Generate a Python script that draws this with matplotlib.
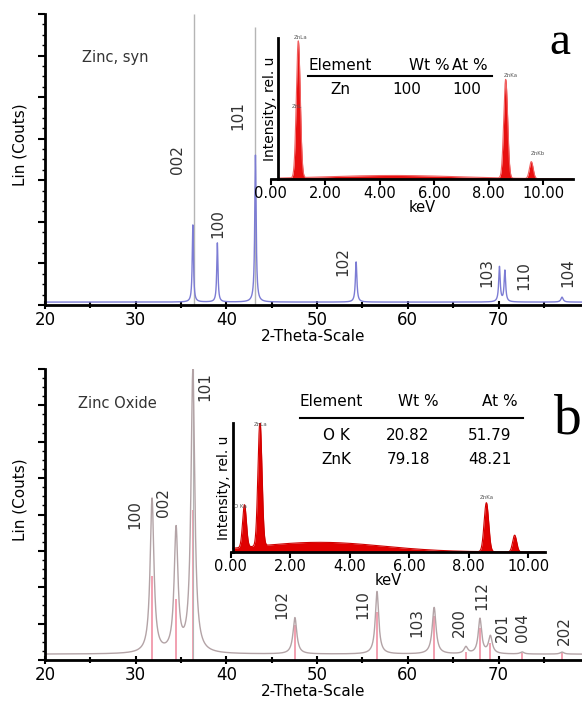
import numpy as np
import matplotlib
matplotlib.use("Agg")
import matplotlib.pyplot as plt
from matplotlib.ticker import MultipleLocator

# ---- XRD data (peak position 2theta, height in % of axis, FWHM) ----
zn_hkl = ["002", "100", "101", "102", "103", "110", "104"]
zn_pos = [36.3, 39.0, 43.2, 54.3, 70.1, 70.7, 77.0]
zn_height = [26.5, 20.3, 50.5, 13.8, 12.0, 10.7, 1.7]
zn_fwhm = [0.16, 0.16, 0.18, 0.2, 0.2, 0.2, 0.3]
zn_background = 1.0
zn_stick_pos = [36.45, 43.2]
zn_stick_height = [100, 95.5]

zno_hkl = ["100", "002", "101", "102", "110", "103", "200", "112", "201", "004", "202"]
zno_pos = [31.8, 34.45, 36.3, 47.55, 56.6, 62.9, 66.4, 67.95, 69.1, 72.6, 77.0]
zno_height = [53.0, 42.0, 97.0, 12.5, 21.5, 16.0, 2.3, 12.0, 6.0, 0.7, 0.7]
zno_fwhm = [0.5, 0.5, 0.5, 0.5, 0.45, 0.5, 0.5, 0.45, 0.5, 0.5, 0.5]
zno_background = 2.0
zno_stick_pos = [31.8, 34.45, 36.3, 47.55, 56.6, 62.9, 66.4, 67.95, 69.1, 72.6, 77.0]
zno_stick_height = [29, 21, 51.5, 12, 16.5, 15, 2.8, 11, 6, 2.5, 2.5]

# label positions (2theta, height %) for hkl texts
zn_lab_x = [34.6, 39.1, 41.3, 52.8, 68.7, 72.8, 77.6]
zn_lab_y = [50, 28, 65, 15, 11, 10, 11]
zno_lab_x = [29.9, 33.1, 37.6, 46.1, 55.0, 61.0, 65.7, 68.2, 70.4, 72.6, 77.3]
zno_lab_y = [50, 54, 94, 19, 19, 13, 13, 22, 11, 11, 10]

# ---- EDS data (keV, relative intensity, width) ----
eds_a_pos = [1.02, 8.63, 9.57, 4.5]
eds_a_height = [0.97, 0.70, 0.12, 0.025]
eds_a_width = [0.17, 0.17, 0.16, 6.0]

eds_b_pos = [0.47, 0.99, 8.6, 9.55, 3.0]
eds_b_height = [0.33, 0.97, 0.38, 0.13, 0.075]
eds_b_width = [0.15, 0.16, 0.18, 0.16, 5.0]

keV_ticks = [0, 2, 4, 6, 8, 10]
keV_labels = ["0.00", "2.00", "4.00", "6.00", "8.00", "10.00"]

table_a = [["Zn", "100", "100"]]
table_b = [["O K", "20.82", "51.79"], ["ZnK", "79.18", "48.21"]]

W, H = 582, 707
FONT = "DejaVu Sans"
plt.rcParams["font.family"] = FONT


def lorentz_sum(x, pos, height, fwhm, base):
    y = np.full_like(x, base)
    for c, h, w in zip(pos, height, fwhm):
        y += h / (1 + ((x - c) / (w / 2)) ** 2)
    return y


def gauss_sum(x, pos, height, width):
    y = np.zeros_like(x)
    for c, h, w in zip(pos, height, width):
        y += h * np.exp(-0.5 * ((x - c) / (w / 2.355)) ** 2)
    return y


def fig_box(x0, y0, x1, y1):
    # pixel box -> figure fraction rect
    return [x0 / W, 1 - y1 / H, (x1 - x0) / W, (y1 - y0) / H]


def style_main(ax, nticks):
    ax.set_xlim(20, 79.2)
    ax.set_ylim(0, 100)
    for s in ["top", "right"]:
        ax.spines[s].set_visible(False)
    ax.spines["left"].set_linewidth(2)
    ax.spines["bottom"].set_linewidth(2)
    ax.xaxis.set_major_locator(MultipleLocator(10))
    ax.xaxis.set_minor_locator(MultipleLocator(5))
    ax.set_yticks(np.linspace(0, 100, nticks + 1))
    ax.yaxis.set_minor_locator(MultipleLocator(100 / nticks / 4))
    ax.tick_params(axis="x", which="major", direction="inout", length=6, width=1.5, labelsize=12, pad=1)
    ax.tick_params(axis="x", which="minor", direction="inout", length=5, width=1.5)
    ax.tick_params(axis="y", which="major", direction="out", length=5, width=1.5, labelleft=False)
    ax.tick_params(axis="y", which="minor", direction="out", length=2, width=1)
    ax.set_xlabel("2-Theta-Scale", fontsize=11, labelpad=0)
    ax.set_ylabel("Lin (Couts)", fontsize=11)
    ax.yaxis.set_label_coords(-0.032, 0.55)


def style_inset(ax, xmax):
    ax.set_xlim(0, xmax)
    ax.set_ylim(0, 1.0)
    for s in ["top", "right"]:
        ax.spines[s].set_visible(False)
    ax.spines["left"].set_linewidth(2)
    ax.spines["bottom"].set_linewidth(2)
    ax.set_xticks(keV_ticks)
    ax.set_xticklabels(keV_labels)
    ax.set_yticks([])
    ax.tick_params(axis="x", direction="out", length=4, width=1.5, labelsize=10.5, pad=1)
    ax.set_xlabel("keV", fontsize=10.5, labelpad=-1)
    ax.set_ylabel("Intensity, rel. u", fontsize=10, labelpad=1)
    ax.patch.set_alpha(0)


fig = plt.figure(figsize=(W / 100, H / 100), dpi=100)

# ---------------- panel a ----------------
ax1 = fig.add_axes(fig_box(45, 14, 582, 305))
tt = np.linspace(20, 80, 8000)
ax1.vlines(zn_stick_pos, 0, zn_stick_height, color="#b5b5b5", lw=1)
ax1.plot(tt, lorentz_sum(tt, zn_pos, zn_height, zn_fwhm, zn_background), color="#7c7cd4", lw=1)
style_main(ax1, 7)
for lab, x, y in zip(zn_hkl, zn_lab_x, zn_lab_y):
    ax1.text(x, y, lab, rotation=90, fontsize=11, ha="center", va="center", color="#333333")
ax1.text(0.069, 0.852, "Zinc, syn", transform=ax1.transAxes, fontsize=10.5, va="center", color="#333333")

ins1 = fig.add_axes(fig_box(270.5, 38, 573, 179))
style_inset(ins1, 11.1)
ins1.spines["left"].set_position(("data", 0.28))
ee = np.linspace(0.28, 11.1, 3000)
ya = gauss_sum(ee, eds_a_pos, eds_a_height, eds_a_width)
ins1.fill_between(ee, 0, ya, color="#e81010", lw=0)
ins1.plot(ee, ya, color="#f06060", lw=0.8)
ins1.text(1.1, 0.99, "ZnLa", fontsize=4, color="#555555", ha="center")
ins1.text(0.95, 0.5, "ZnL", fontsize=4, color="#555555", ha="center")
ins1.text(8.8, 0.72, "ZnKa", fontsize=4, color="#555555", ha="center")
ins1.text(9.8, 0.17, "ZnKb", fontsize=4, color="#555555", ha="center")

# table a
fig.text(308 / W, 1 - 65 / H, "Element", fontsize=11, va="center", ha="left")
fig.text(429 / W, 1 - 65 / H, "Wt %", fontsize=11, va="center", ha="center")
fig.text(470 / W, 1 - 65 / H, "At %", fontsize=11, va="center", ha="center")
fig.add_artist(plt.Line2D([308 / W, 492 / W], [1 - 76 / H, 1 - 76 / H], color="black", lw=1.5))
for row in table_a:
    fig.text(340 / W, 1 - 90 / H, row[0], fontsize=11, va="center", ha="center")
    fig.text(407 / W, 1 - 90 / H, row[1], fontsize=11, va="center", ha="center")
    fig.text(467 / W, 1 - 90 / H, row[2], fontsize=11, va="center", ha="center")
fig.text(560 / W, 1 - 43 / H, "a", fontsize=34, family="Liberation Serif", ha="center", va="center")

# ---------------- panel b ----------------
ax2 = fig.add_axes(fig_box(45, 369, 582, 660))
ax2.vlines(zno_stick_pos, 0, zno_stick_height, color="#f2a0b0", lw=1.4)
ax2.vlines([36.3], 0, [100], color="#b5b5b5", lw=0.8)
ax2.plot(tt, lorentz_sum(tt, zno_pos, zno_height, zno_fwhm, zno_background), color="#b3a3a6", lw=1)
style_main(ax2, 8)
for lab, x, y in zip(zno_hkl, zno_lab_x, zno_lab_y):
    ax2.text(x, y, lab, rotation=90, fontsize=11, ha="center", va="center", color="#333333")
ax2.text(0.062, 0.883, "Zinc Oxide", transform=ax2.transAxes, fontsize=10.5, va="center", color="#333333")

ins2 = fig.add_axes(fig_box(230.5, 423, 545, 552))
style_inset(ins2, 10.57)
ins2.spines["left"].set_position(("data", 0.08))
eb = np.linspace(0.08, 10.57, 3000)
yb = gauss_sum(eb, eds_b_pos, eds_b_height, eds_b_width)
ins2.fill_between(eb, 0, yb, color="#e00000", lw=0)
ins2.plot(eb, yb, color="#d00000", lw=0.8)
ins2.text(1.0, 0.98, "ZnLa", fontsize=4, color="#555555", ha="center")
ins2.text(0.35, 0.34, "O Ka", fontsize=4, color="#555555", ha="center")
ins2.text(8.6, 0.41, "ZnKa", fontsize=4, color="#555555", ha="center")

# table b
fig.text(300 / W, 1 - 402 / H, "Element", fontsize=11, va="center", ha="left")
fig.text(418 / W, 1 - 402 / H, "Wt %", fontsize=11, va="center", ha="center")
fig.text(518 / W, 1 - 402 / H, "At %", fontsize=11, va="center", ha="right")
fig.add_artist(plt.Line2D([300 / W, 523 / W], [1 - 418 / H, 1 - 418 / H], color="black", lw=1.5))
for i, row in enumerate(table_b):
    yy = 1 - (435 + 24 * i) / H
    fig.text(336 / W, yy, row[0], fontsize=11, va="center", ha="center")
    fig.text(408 / W, yy, row[1], fontsize=11, va="center", ha="center")
    fig.text(490 / W, yy, row[2], fontsize=11, va="center", ha="center")
fig.text(568 / W, 1 - 420 / H, "b", fontsize=40, family="Liberation Serif", ha="center", va="center")

fig.savefig("out.png", dpi=100)
